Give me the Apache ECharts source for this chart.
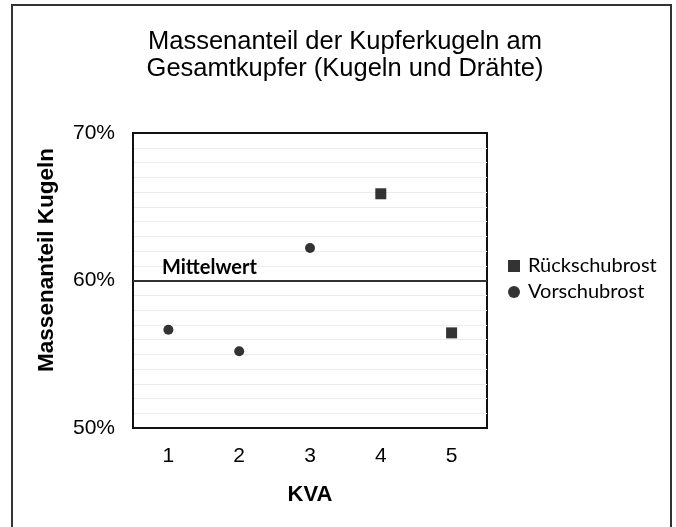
<!DOCTYPE html>
<html>
<head>
<meta charset="utf-8">
<script src="https://cdn.jsdelivr.net/npm/echarts@6/dist/echarts.min.js"></script>
<style>
html, body { margin: 0; padding: 0; background: #fff; }
#chart { width: 676px; height: 527px; }
</style>
</head>
<body>
<div id="chart"></div>
<script>
// Daten (Massenanteil in %)
var kva = ['1', '2', '3', '4', '5'];
var vorschubrost = [56.66, 55.2, 62.2, null, null];
var rueckschubrost = [null, null, null, 65.88, 56.45];
var mittelwert = 60;
var yMin = 50, yMax = 70, yStep = 10;

var chart = echarts.init(document.getElementById('chart'));

var option = {
    animation: false,
    backgroundColor: '#fff',
    title: {
        text: 'Massenanteil der Kupferkugeln am\nGesamtkupfer (Kugeln und Drähte)',
        left: 340,
        top: 23,
        textAlign: 'center',
        textStyle: {
            fontFamily: 'Liberation Sans',
            fontWeight: 'normal',
            fontSize: 25.5,
            lineHeight: 27,
            color: '#000'
        }
    },
    legend: {
        orient: 'vertical',
        left: 503,
        top: 251,
        itemWidth: 12,
        itemHeight: 12,
        itemGap: 6,
        data: [
            { name: 'Rückschubrost', icon: 'rect' },
            { name: 'Vorschubrost', icon: 'circle' }
        ],
        textStyle: { fontFamily: 'Lato', fontSize: 20, color: '#000', padding: [0, 0, 0, 3] }
    },
    grid: {
        left: 133,
        top: 133,
        right: 189,
        bottom: 99,
        show: true,
        borderColor: '#111',
        borderWidth: 2
    },
    graphic: [
        {
            type: 'rect',
            shape: { x: 12, y: 5, width: 659, height: 540 },
            style: { fill: 'none', stroke: '#333', lineWidth: 2 },
            silent: true
        },
        {
            type: 'text',
            x: 47,
            y: 260,
            rotation: Math.PI / 2,
            style: {
                text: 'Massenanteil Kugeln',
                fontFamily: 'Liberation Sans',
                fontWeight: 'bold',
                fontSize: 22.5,
                fill: '#000',
                align: 'center',
                verticalAlign: 'middle'
            }
        }
    ],
    xAxis: {
        type: 'category',
        data: kva,
        boundaryGap: true,
        name: 'KVA',
        nameLocation: 'middle',
        nameGap: 56,
        nameTextStyle: { fontFamily: 'Liberation Sans', fontWeight: 'bold', fontSize: 22, color: '#000' },
        axisLine: { lineStyle: { color: '#111', width: 2 } },
        axisTick: { inside: true, length: 7, interval: 0, lineStyle: { color: '#111', width: 1.5 } },
        axisLabel: { fontFamily: 'Liberation Sans', fontSize: 21, color: '#000', margin: 18 },
        splitLine: { show: false }
    },
    yAxis: {
        type: 'value',
        min: yMin,
        max: yMax,
        interval: yStep,
        axisLine: { show: true, lineStyle: { color: '#111', width: 2 } },
        axisTick: { show: false },
        axisLabel: {
            formatter: '{value}%',
            fontFamily: 'Liberation Sans',
            fontSize: 21,
            color: '#000',
            margin: 18
        },
        splitLine: { show: false },
        minorTick: { show: false, splitNumber: 10 },
        minorSplitLine: { show: true, lineStyle: { color: '#ececec', width: 1 } }
    },
    series: [
        {
            name: 'Rückschubrost',
            type: 'scatter',
            symbol: 'rect',
            symbolSize: 11,
            itemStyle: { color: '#000' },
            data: rueckschubrost,
            z: 5
        },
        {
            name: 'Vorschubrost',
            type: 'scatter',
            symbol: 'circle',
            symbolSize: 10,
            itemStyle: { color: '#000' },
            data: vorschubrost,
            z: 5,
            markLine: {
                silent: true,
                symbol: ['none', 'none'],
                lineStyle: { color: '#333', width: 2, type: 'solid' },
                label: {
                    show: true,
                    position: 'insideStartTop',
                    formatter: 'Mittelwert',
                    fontFamily: 'Lato',
                    fontWeight: 'bold',
                    fontSize: 20,
                    color: '#000',
                    distance: [29, 3]
                },
                data: [{ yAxis: mittelwert }]
            }
        }
    ]
};

chart.setOption(option);
</script>
</body>
</html>
